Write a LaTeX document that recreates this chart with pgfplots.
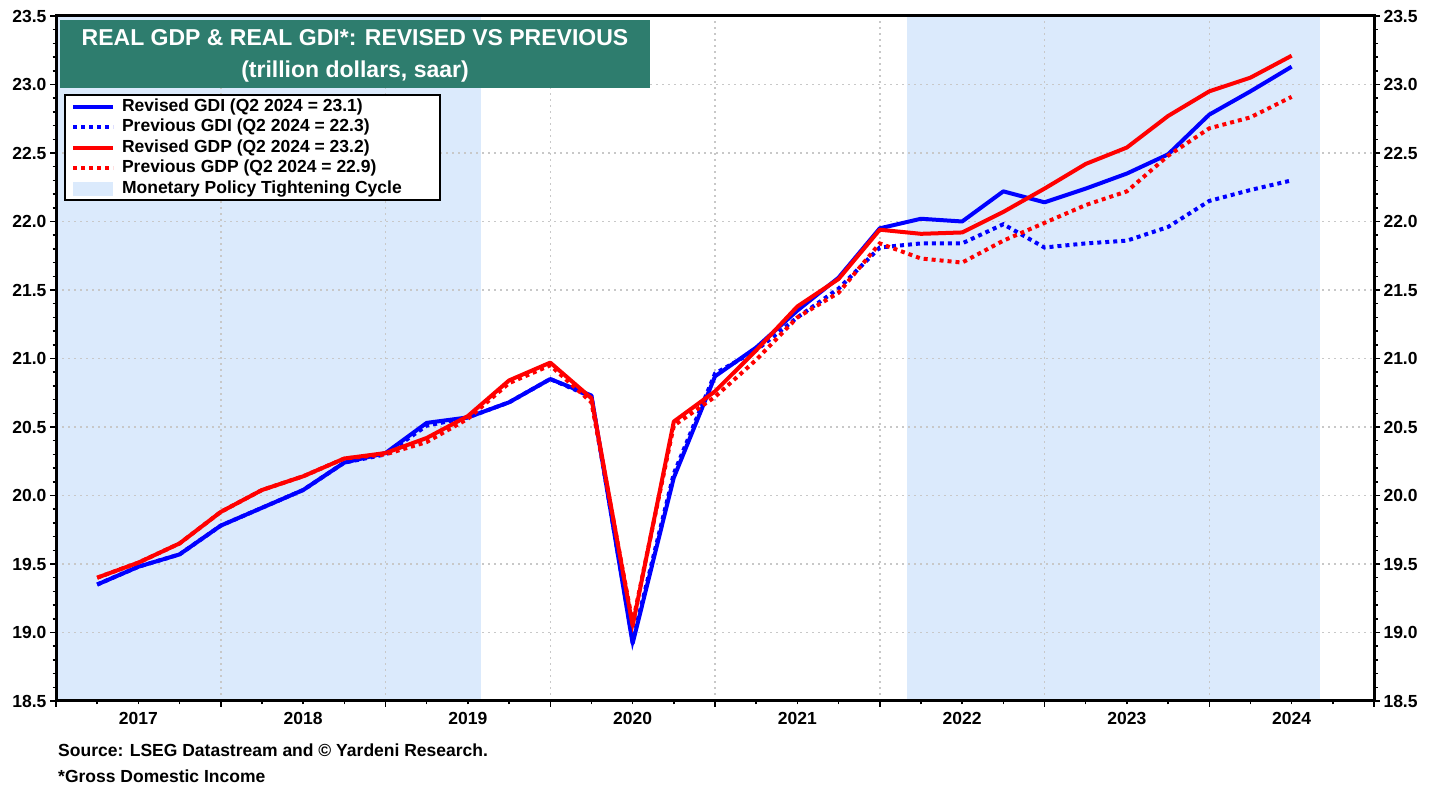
\documentclass[border=0pt]{standalone}
\usepackage{fontspec}
\setmainfont{Liberation Sans}
\usepackage{pgfplots}
\usepackage{pgfplotstable}
\pgfplotsset{compat=1.18}
\definecolor{shade}{RGB}{219,234,252}
\definecolor{titlegreen}{RGB}{46,125,110}
\definecolor{gridgray}{RGB}{200,200,200}

\pgfplotstableread{
t gdirev gdiprev gdprev gdpprev
2017.25 19.35 19.35 19.40 19.40
2017.50 19.48 19.48 19.51 19.51
2017.75 19.57 19.57 19.65 19.65
2018.00 19.78 19.78 19.88 19.88
2018.25 19.91 19.91 20.04 20.04
2018.50 20.04 20.04 20.14 20.14
2018.75 20.24 20.24 20.27 20.27
2019.00 20.31 20.30 20.31 20.30
2019.25 20.53 20.51 20.42 20.39
2019.50 20.57 20.57 20.58 20.56
2019.75 20.68 20.68 20.84 20.82
2020.00 20.85 20.85 20.97 20.95
2020.25 20.73 20.72 20.71 20.68
2020.50 18.92 18.94 19.05 19.07
2020.75 20.13 20.16 20.54 20.51
2021.00 20.87 20.89 20.76 20.72
2021.25 21.08 21.06 21.06 20.99
2021.50 21.35 21.30 21.38 21.30
2021.75 21.59 21.51 21.58 21.48
2022.00 21.95 21.81 21.94 21.84
2022.25 22.02 21.84 21.91 21.73
2022.50 22.00 21.84 21.92 21.70
2022.75 22.22 21.98 22.07 21.86
2023.00 22.14 21.81 22.24 21.99
2023.25 22.24 21.84 22.42 22.12
2023.50 22.35 21.86 22.54 22.22
2023.75 22.49 21.96 22.77 22.48
2024.00 22.78 22.15 22.95 22.68
2024.25 22.95 22.23 23.05 22.76
2024.50 23.13 22.30 23.21 22.91
}\data

\pgfplotsset{
  mylegline/.style={legend image code/.code={\draw[##1] (0pt,0pt) -- (40pt,0pt);}},
  mylegarea/.style={legend image code/.code={\path[##1, draw=none] (0pt,-7pt) rectangle (40pt,7pt);}},
  base/.style={scale only axis, width=1318pt, height=685pt,
    xmin=2017, xmax=2025, ymin=18.5, ymax=23.5},
}

\newcommand{\lbl}{\fontsize{17.5}{20}\selectfont\bfseries}

\begin{document}
\begin{tikzpicture}
\useasboundingbox (-56pt,-86pt) rectangle (1385pt,701pt);
% shading of the tightening cycles
\begin{axis}[base, hide axis]
\addplot[fill=shade, draw=none] coordinates {(2017,18.5) (2017,23.5) (2019.58,23.5) (2019.58,18.5)};
\addplot[fill=shade, draw=none] coordinates {(2022.165,18.5) (2022.165,23.5) (2024.67,23.5) (2024.67,18.5)};
\end{axis}

\begin{axis}[
  base,
  xtick={2017,2018,2019,2020,2021,2022,2023,2024,2025},
  minor x tick num=3,
  x tick label as interval,
  xticklabels={2017,2018,2019,2020,2021,2022,2023,2024},
  ytick={18.5,19,19.5,20,20.5,21,21.5,22,22.5,23,23.5},
  minor y tick num=4,
  ytick pos=left, xtick pos=bottom,
  tick align=outside,
  major tick length=6pt, minor tick length=3.5pt,
  every tick/.style={black, line width=1.5pt},
  axis line style={black, line width=3pt},
  grid=major,
  grid style={gridgray, line width=1.5pt, dash pattern=on 2pt off 4pt},
  tick label style={font=\lbl},
  /pgf/number format/assume math mode=true,
  yticklabel style={/pgf/number format/.cd, fixed, fixed zerofill, precision=1},
  xticklabel style={yshift=-2pt},
  legend style={at={(0.0061,0.886)}, anchor=north west, draw=black, line width=2pt,
    fill=white, inner xsep=6pt, inner ysep=3pt, row sep=3.5pt, column sep=7pt,
    font=\lbl, nodes={inner sep=0pt, text height=13pt, text depth=4pt},
    cells={anchor=west}},
]
\addlegendimage{mylegline, blue, line width=4pt}
\addlegendentry{\makebox[312pt][l]{Revised GDI (Q2 2024 = 23.1)}}
\addlegendimage{mylegline, blue, line width=4pt, dash pattern=on 4pt off 4pt}
\addlegendentry{\makebox[312pt][l]{Previous GDI (Q2 2024 = 22.3)}}
\addlegendimage{mylegline, red, line width=4pt}
\addlegendentry{\makebox[312pt][l]{Revised GDP (Q2 2024 = 23.2)}}
\addlegendimage{mylegline, red, line width=4pt, dash pattern=on 4pt off 4pt}
\addlegendentry{\makebox[312pt][l]{Previous GDP (Q2 2024 = 22.9)}}
\addlegendimage{mylegarea, fill=shade}
\addlegendentry{\makebox[312pt][l]{Monetary Policy Tightening Cycle}}

\addplot[blue, line width=4pt, line join=round, forget plot] table[x=t, y=gdirev] {\data};
\addplot[blue, line width=4pt, dash pattern=on 4pt off 4pt, forget plot] table[x=t, y=gdiprev] {\data};
\addplot[red, line width=4pt, line join=round, forget plot] table[x=t, y=gdprev] {\data};
\addplot[red, line width=4pt, dash pattern=on 4pt off 4pt, forget plot] table[x=t, y=gdpprev] {\data};
\end{axis}

\begin{axis}[
  base,
  hide x axis, axis y line*=right,
  ytick={18.5,19,19.5,20,20.5,21,21.5,22,22.5,23,23.5},
  minor y tick num=4,
  tick align=outside,
  major tick length=6pt, minor tick length=3.5pt,
  every tick/.style={black, line width=1.5pt},
  axis line style={black, line width=3pt, -},
  tick label style={font=\lbl},
  /pgf/number format/assume math mode=true,
  yticklabel style={/pgf/number format/.cd, fixed, fixed zerofill, precision=1},
]
\addplot[draw=none, forget plot] coordinates {(2017,20) (2025,20)};
\end{axis}

\fill[titlegreen] (4pt,613pt) rectangle (594pt,681pt);
\node[anchor=base, text=white, font=\fontsize{23}{26}\selectfont\bfseries, inner sep=0pt]
  at (299pt,655pt) {REAL GDP \& REAL GDI*: REVISED VS PREVIOUS};
\node[anchor=base, text=white, font=\fontsize{23}{26}\selectfont\bfseries, inner sep=0pt]
  at (299pt,623pt) {(trillion dollars, saar)};

\node[anchor=base west, font=\lbl, inner sep=0pt] at (2pt,-56pt)
  {Source: LSEG Datastream and © Yardeni Research.};
\node[anchor=base west, font=\lbl, inner sep=0pt] at (2pt,-82pt)
  {*Gross Domestic Income};
\end{tikzpicture}
\end{document}
